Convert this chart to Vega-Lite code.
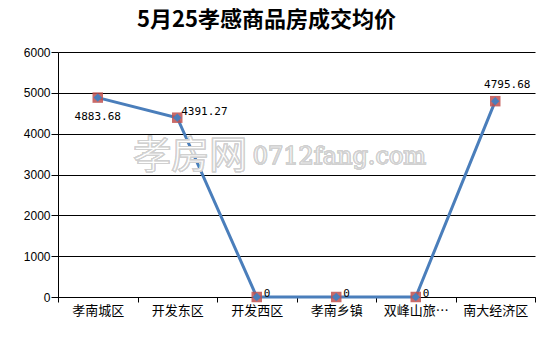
{
  "$schema": "https://vega.github.io/schema/vega-lite/v6.json",
  "autosize": "none",
  "width": 477,
  "height": 245,
  "padding": {"left": 58, "top": 52, "right": 3, "bottom": 56},
  "background": "white",
  "title": {
    "text": "5月25孝感商品房成交均价",
    "font": "Noto Sans CJK SC",
    "fontSize": 22,
    "fontWeight": "bold",
    "color": "black",
    "anchor": "middle",
    "dx": -30,
    "offset": 14
  },
  "config": {
    "view": {"stroke": null},
    "axis": {"labelColor": "black", "domainColor": "black", "tickColor": "black"}
  },
  "data": {
    "values": [
      {"区域": "孝南城区", "均价": 4883.68, "标签": "4883.68"},
      {"区域": "开发东区", "均价": 4391.27, "标签": "4391.27"},
      {"区域": "开发西区", "均价": 0, "标签": "0"},
      {"区域": "孝南乡镇", "均价": 0, "标签": "0"},
      {"区域": "双峰山旅…", "均价": 0, "标签": "0"},
      {"区域": "南大经济区", "均价": 4795.68, "标签": "4795.68"}
    ]
  },
  "encoding": {
    "x": {
      "field": "区域",
      "type": "nominal",
      "sort": null,
      "title": null,
      "axis": {
        "labelAngle": 0,
        "labelFont": "Noto Sans CJK SC",
        "labelFontSize": 13,
        "labelPadding": 2,
        "tickBand": "extent",
        "tickSize": 5,
        "domain": true,
        "grid": false
      }
    },
    "y": {
      "field": "均价",
      "type": "quantitative",
      "title": null,
      "scale": {"domain": [0, 6000], "nice": false},
      "axis": {
        "values": [0, 1000, 2000, 3000, 4000, 5000, 6000],
        "format": "d",
        "labelFont": "Liberation Sans",
        "labelFontSize": 12,
        "labelPadding": 1,
        "tickSize": 7,
        "grid": true,
        "gridColor": "black",
        "gridOpacity": 1,
        "gridWidth": 1
      }
    }
  },
  "layer": [
    {"mark": {"type": "line", "color": "#4a7ebb", "strokeWidth": 3}},
    {"mark": {"type": "square", "color": "#c0504d", "opacity": 0.85, "size": 110}},
    {"mark": {"type": "point", "shape": "diamond", "filled": true, "color": "#4a7ebb", "opacity": 1, "size": 70}},
    {
      "transform": [{"filter": "datum['区域'] === '孝南城区'"}],
      "mark": {"type": "text", "font": "DejaVu Sans Mono", "fontSize": 11, "color": "black", "align": "center", "baseline": "middle", "dy": 19},
      "encoding": {"text": {"field": "标签"}}
    },
    {
      "transform": [{"filter": "datum['区域'] === '开发东区'"}],
      "mark": {"type": "text", "font": "DejaVu Sans Mono", "fontSize": 11, "color": "black", "align": "left", "baseline": "middle", "dx": 4, "dy": -6},
      "encoding": {"text": {"field": "标签"}}
    },
    {
      "transform": [{"filter": "datum['均价'] === 0"}],
      "mark": {"type": "text", "font": "DejaVu Sans Mono", "fontSize": 11, "color": "black", "align": "left", "baseline": "middle", "dx": 7, "dy": -3},
      "encoding": {"text": {"field": "标签"}}
    },
    {
      "transform": [{"filter": "datum['区域'] === '南大经济区'"}],
      "mark": {"type": "text", "font": "DejaVu Sans Mono", "fontSize": 11, "color": "black", "align": "center", "baseline": "middle", "dx": 12, "dy": -16},
      "encoding": {"text": {"field": "标签"}}
    },
    {
      "mark": {"type": "text", "text": "孝房网", "font": "Noto Sans CJK SC", "fontSize": 38, "fill": "white", "fillOpacity": 0.6, "stroke": "#d0d0d0", "strokeWidth": 1, "align": "center", "baseline": "middle", "dx": 13},
      "encoding": {"x": {"datum": "开发东区"}, "y": {"datum": 3420}}
    },
    {
      "mark": {"type": "text", "text": "0712fang.com", "font": "DejaVu Serif", "fontSize": 24, "fill": "white", "fillOpacity": 0.6, "stroke": "#d0d0d0", "strokeWidth": 1, "align": "left", "baseline": "middle", "dx": -4},
      "encoding": {"x": {"datum": "开发西区"}, "y": {"datum": 3420}}
    }
  ]
}
